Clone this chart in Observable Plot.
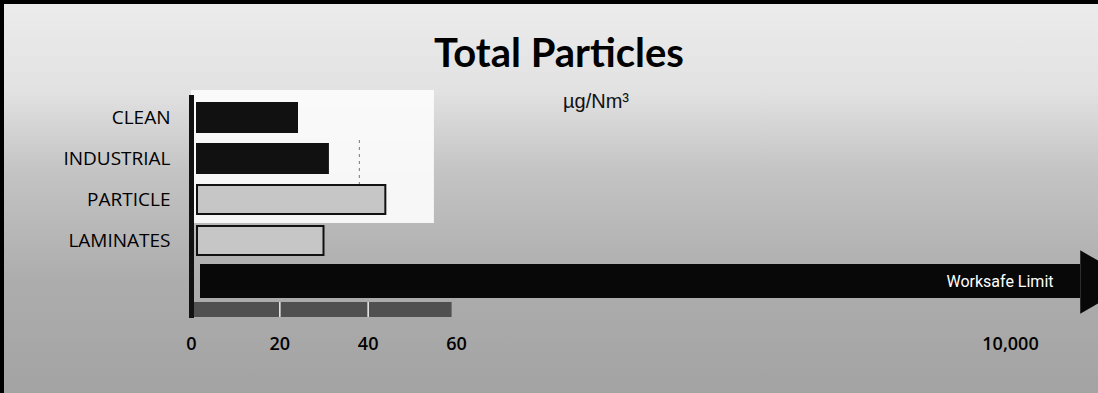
<!DOCTYPE html>
<html><head><meta charset="utf-8">
<script src="https://cdn.jsdelivr.net/npm/d3@7"></script>
<script src="https://cdn.jsdelivr.net/npm/@observablehq/plot@0.6"></script>
<style>
html,body{margin:0;padding:0;}
body{width:1098px;height:393px;overflow:hidden;position:relative;
  background:linear-gradient(#ececec 0px,#e2e2e2 90px,#c4c4c4 170px,#adadad 280px,#a3a3a3 393px);
  font-family:"Open Sans",sans-serif;}
#topbar{position:absolute;left:0;top:0;width:1098px;height:4px;background:#000;z-index:2}
#leftbar{position:absolute;left:0;top:0;width:4px;height:393px;background:#000;z-index:2}
#head{position:relative;height:90px;}
#title{position:absolute;left:0;width:1118px;text-align:center;top:37px;font-family:Lato,sans-serif;font-weight:bold;font-size:40px;line-height:30px;height:30px;color:#000;}
#sub{position:absolute;left:0;width:1192px;text-align:center;top:90px;font-family:"Liberation Sans",Arial,sans-serif;font-size:20px;color:#111;line-height:22px;height:22px;z-index:3}
#chart svg{display:block}
</style></head>
<body>
<div id="topbar"></div><div id="leftbar"></div>
<div id="head"><div id="title">Total Particles</div><div id="sub">µg/Nm³</div></div>
<div id="chart"></div>
<script>
const categories = ["CLEAN", "INDUSTRIAL", "PARTICLE", "LAMINATES"];
const values = [24, 31, 44, 30];
const limitLabel = "Worksafe Limit";
const limitValue = 10000;
const xTicks = [0, 20, 40, 60, 10000];

const data = categories.map((c, i) => ({category: c, value: values[i], i}));
const LIMIT = "LIMIT";

const chart = Plot.plot({
  width: 1098,
  height: 303,
  marginLeft: 190,
  marginRight: 88,
  marginTop: 0,
  marginBottom: 75,
  style: {background: "transparent", fontFamily: "Open Sans, sans-serif", color: "#000", overflow: "visible"},
  x: {type: "linear", domain: [0, 60, 10000], range: [191, 456, 1010]},
  y: {type: "band", domain: [...categories, LIMIT], range: [11, 207], paddingInner: 0.3, paddingOuter: 0},
  marks: [
    Plot.rect([0], {x1: 0, x2: 55, fill: "#fcfcfc", fillOpacity: 0.92, insetBottom: 95}),
    Plot.ruleX([38], {stroke: "#777", strokeDasharray: "3,4", insetTop: 50, insetBottom: 128}),
    Plot.rect([0], {x1: 0, x2: 59, fill: "#505050", insetTop: 212, insetBottom: 1}),
    Plot.ruleX([20, 40], {stroke: "#eee", strokeWidth: 1.5, insetTop: 212, insetBottom: 1}),
    Plot.ruleX([0], {stroke: "#111", strokeWidth: 5, insetTop: 5}),
    Plot.barX(data, {y: "category", x: "value", fill: d => d.i < 2 ? "#111" : "#c6c6c6", stroke: "#111", strokeWidth: 2, insetLeft: 6}),
    Plot.barX([limitValue], {y: () => LIMIT, x: d => d, fill: "#080808", insetTop: -3, insetBottom: -2, insetLeft: 9, insetRight: -70}),
    Plot.dot([limitValue], {x: d => d, y: () => LIMIT, symbol: "triangle", r: 23.5, rotate: 90, fill: "#080808", stroke: null, dx: 88}),
    Plot.text([limitLabel], {x: () => limitValue, y: () => LIMIT, text: d => d, fill: "white", textAnchor: "end", dx: 43, fontSize: 16, fontFamily: "Roboto, sans-serif"}),
    Plot.axisY(categories, {tickSize: 0, tickPadding: 20, fontSize: 19, letterSpacing: -0.4, label: null}),
    Plot.axisX(xTicks, {tickSize: 0, tickPadding: 19, fontSize: 18, fontWeight: 600, tickFormat: d3.format(","), label: null})
  ]
});
document.getElementById("chart").appendChild(chart);
</script>
</body></html>
